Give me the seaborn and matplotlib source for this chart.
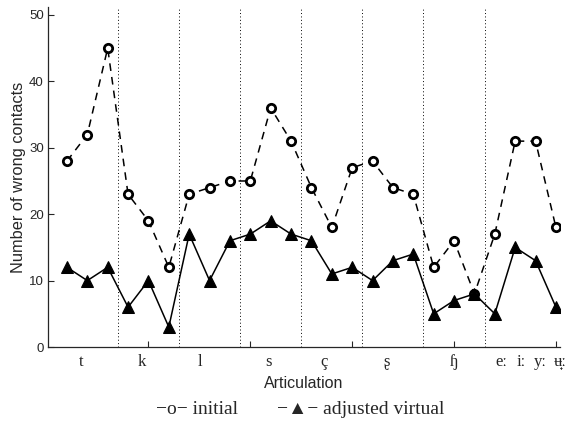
import numpy as np
import pandas as pd
import matplotlib
matplotlib.use("Agg")
import matplotlib.pyplot as plt
import seaborn as sns

positions = list(range(1, 26))
initial = [28, 32, 45, 23, 19, 12, 23, 24, 25, 25, 36, 31, 24, 18, 27,
           28, 24, 23, 12, 16, 8, 17, 31, 31, 18]
adjusted = [12, 10, 12, 6, 10, 3, 17, 10, 16, 17, 19, 17, 16, 11, 12,
            10, 13, 14, 5, 7, 8, 5, 15, 13, 6]
category_labels = ["t", "k", "l", "s", "ç", "ʂ", "ɧ", "eː", "iː", "yː", "ʉ̟ː"]
category_pos = [1.7, 4.65, 7.55, 10.9, 13.6, 16.7, 20.0, 22.3, 23.3, 24.25, 25.2]
group_bounds = [3.5, 6.5, 9.5, 12.5, 15.5, 18.5, 21.5]
yticks = [0, 10, 20, 30, 40, 50]

sns.set_style("ticks")
plt.rcParams["font.family"] = ["Liberation Sans", "DejaVu Sans"]

df = pd.DataFrame({"pos": positions, "initial": initial, "adjusted": adjusted})

fig = plt.figure(figsize=(5.84, 4.24), dpi=100)
ax = fig.add_axes([48/584, 77/424, 512/584, 340/424])

for b in group_bounds:
    ax.axvline(b, color="black", linestyle=(0, (1, 2.5)), linewidth=0.7, zorder=1)

sns.lineplot(data=df, x="pos", y="initial", ax=ax, color="black",
             linestyle=(0, (5, 4)), linewidth=1.1, marker="o", markersize=6.0,
             markerfacecolor="white", markeredgecolor="black", markeredgewidth=2.0,
             zorder=3)
sns.lineplot(data=df, x="pos", y="adjusted", ax=ax, color="black",
             linestyle="-", linewidth=1.1, marker="^", markersize=8.5,
             markerfacecolor="black", markeredgecolor="black", zorder=4)

ax.set_xlim(0.07, 25)
ax.set_ylim(0, 51.2)
ax.xaxis.remove_overlapping_locs = False
ax.set_yticks(yticks)
ax.set_yticklabels([str(v) for v in yticks], fontsize=9.5)
ax.set_xticks([5, 10, 15, 20, 25])
ax.set_xticklabels([])
ax.set_xticks(category_pos, minor=True)
ax.set_xticklabels(category_labels, minor=True,
                   family=["Liberation Serif", "DejaVu Serif", "DejaVu Sans"],
                   fontsize=12)
ax.tick_params(axis="both", which="major", direction="in", length=4, width=0.8)
ax.tick_params(axis="x", which="minor", length=0, pad=5)
ax.tick_params(axis="y", pad=3)
sns.despine(ax=ax)
for s in ["left", "bottom"]:
    ax.spines[s].set_linewidth(0.9)

ax.set_xlabel("Articulation", fontsize=11.5, labelpad=4)
ax.set_ylabel("Number of wrong contacts", fontsize=11.8, labelpad=2)

fig.text(300/584, 1 - 409/424, "−o− initial        −▲− adjusted virtual",
         ha="center", va="center", fontsize=14,
         family=["Liberation Serif", "DejaVu Sans"])

fig.savefig("out.png", dpi=100)
